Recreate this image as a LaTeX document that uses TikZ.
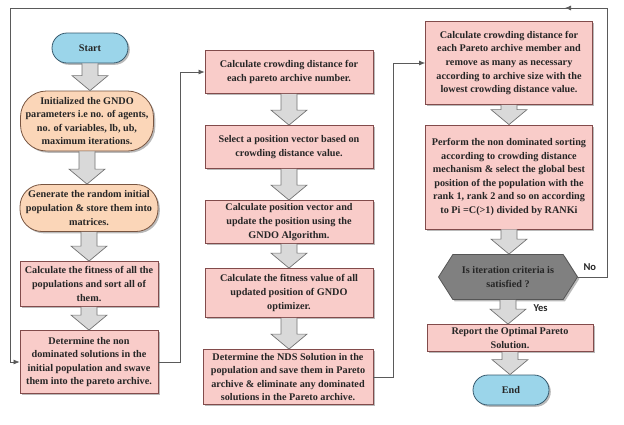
\documentclass[tikz,border=0pt]{standalone}
\usepackage{fontspec}
\setmainfont{Liberation Serif}
\newfontfamily\labelfont{Carlito}
\usetikzlibrary{calc,shadows,shapes.symbols,arrows.meta}

\definecolor{boxpink}{RGB}{249,204,201}
\definecolor{boxpinkline}{RGB}{130,75,75}
\definecolor{boxorange}{RGB}{251,214,184}
\definecolor{boxorangeline}{RGB}{120,85,65}
\definecolor{boxblue}{RGB}{155,213,234}
\definecolor{boxblueline}{RGB}{55,90,110}
\definecolor{decgray}{RGB}{128,128,128}
\definecolor{decgrayline}{RGB}{85,85,85}
\definecolor{arrowgray}{RGB}{217,217,217}
\definecolor{arrowgrayline}{RGB}{115,115,115}
\definecolor{loopline}{RGB}{90,90,90}

\newcommand{\blockarrow}[2]{%
  \coordinate (ba_s) at (#1.south);
  \coordinate (ba_e) at (#1.south |- #2.north);
  \draw[blockarr] ($(ba_s)+(-8,0)$) -- ($(ba_e)+(-8,-15)$) -- ($(ba_e)+(-18,-15)$)
    -- (ba_e) -- ($(ba_e)+(18,-15)$) -- ($(ba_e)+(8,-15)$) -- ($(ba_s)+(8,0)$);
}

\begin{document}
\begin{tikzpicture}[x=1pt,y=-1pt]
\tikzset{
  stepbox/.style={rectangle,draw=boxpinkline,fill=boxpink,thick,align=center,inner sep=2pt,
    text=black!85,font=\bfseries\fontsize{10.2}{13.6}\selectfont,
    drop shadow={shadow xshift=1.8pt,shadow yshift=-1.8pt,fill=black!45,opacity=0.6}},
  initbox/.style={stepbox,draw=boxorangeline,fill=boxorange},
  termbox/.style={stepbox,draw=boxblueline,fill=boxblue,minimum width=76pt,minimum height=30pt,rounded corners=15pt},
  decbox/.style={signal,signal to=east and west,signal pointer angle=115,draw=decgrayline,fill=decgray,thick,
    align=center,inner sep=1pt,text=black!85,font=\bfseries\fontsize{10.2}{13.6}\selectfont,
    drop shadow={shadow xshift=1.8pt,shadow yshift=-1.8pt,fill=black!45,opacity=0.6}},
  blockarr/.style={fill=arrowgray,draw=arrowgrayline,line width=0.7pt,line join=miter},
  flowline/.style={draw=loopline,line width=0.7pt},
  flowarrow/.style={flowline,-{Latex[length=6pt,width=5pt]}},
  flowlabel/.style={font=\labelfont\bfseries\fontsize{10.5}{12}\selectfont,text=black!85}
}
\useasboundingbox (0,0) rectangle (624,424);

\node[termbox] (n_start) at (90,48) {Start};
\node[initbox,minimum width=133pt,minimum height=60pt,rounded corners=26pt] (n_init) at (87,121)
  {Initialized the GNDO\\parameters i.e no. of agents,\\no. of variables,  lb, ub,\\maximum iterations.};
\node[initbox,minimum width=138pt,minimum height=47pt,rounded corners=22pt] (n_gen) at (89,208)
  {Generate the random initial\\population \& store them into\\matrices.};
\node[stepbox,minimum width=138pt,minimum height=45pt] (n_fit) at (89,284)
  {Calculate the fitness of all the\\populations and sort all of\\them.};
\node[stepbox,minimum width=138pt,minimum height=63pt] (n_det) at (89,362)
  {Determine the non\\dominated solutions in the\\initial population and swave\\them into the pareto archive.};

\node[stepbox,minimum width=168pt,minimum height=43pt] (n_cd) at (289,72)
  {Calculate crowding distance for\\each pareto archive number.};
\node[stepbox,minimum width=168pt,minimum height=43pt] (n_sel) at (289,147)
  {Select a position vector based on\\crowding distance value.};
\node[stepbox,minimum width=168pt,minimum height=43pt] (n_pos) at (289,222)
  {Calculate position vector and\\update the position using the\\GNDO Algorithm.};
\node[stepbox,minimum width=168pt,minimum height=49pt] (n_fitval) at (289,293)
  {Calculate the fitness value of all\\updated position of GNDO\\optimizer.};
\node[stepbox,minimum width=170pt,minimum height=55pt] (n_nds) at (288,377)
  {Determine the NDS Solution in the\\population and save them in Pareto\\archive \& eliminate any dominated\\solutions in the Pareto archive.};

\node[stepbox,minimum width=167pt,minimum height=83pt] (n_crowd) at (509,63)
  {Calculate crowding distance for\\each Pareto archive member and\\remove as many as necessary\\according to archive size with the\\lowest crowding distance value.};
\node[stepbox,minimum width=167pt,minimum height=104pt] (n_sort) at (509,177)
  {Perform the non dominated sorting\\according to crowding distance\\mechanism \& select the global best\\position of the population with the\\rank 1, rank 2 and so on according\\to Pi =C(>1) divided by RANKi};
\node[decbox,minimum width=139pt,minimum height=45pt] (n_check) at (508,277)
  {Is iteration criteria is\\satisfied ?};
\node[stepbox,minimum width=166pt,minimum height=27pt] (n_report) at (510,338)
  {Report the Optimal Pareto\\Solution.};
\node[termbox] (n_end) at (511,390) {End};

\blockarrow{n_start}{n_init}
\blockarrow{n_init}{n_gen}
\blockarrow{n_gen}{n_fit}
\blockarrow{n_fit}{n_det}
\blockarrow{n_cd}{n_sel}
\blockarrow{n_sel}{n_pos}
\blockarrow{n_pos}{n_fitval}
\blockarrow{n_fitval}{n_nds}
\blockarrow{n_crowd}{n_sort}
\blockarrow{n_sort}{n_check}
\blockarrow{n_check}{n_report}
\blockarrow{n_report}{n_end}

\coordinate (c_j1) at (180,0);
\coordinate (c_j2) at (393,0);
\coordinate (c_ne) at (607,8);
\coordinate (c_nw) at (10,8);
\coordinate (c_mid) at (565,8);
\draw[flowarrow] (n_det.east) -- (n_det.east -| c_j1) |- (n_cd.west);
\draw[flowarrow] (n_nds.east) -- (n_nds.east -| c_j2) |- (n_crowd.west);
\draw[flowline] (n_check.east) -| (c_ne) -- (c_nw);
\draw[flowarrow] (c_ne) -- (c_mid);
\draw[flowarrow] (c_nw) |- (n_det.west);

\node[flowlabel,anchor=south west] (l_no) at (580,274) {No};
\node[flowlabel,anchor=west] (l_yes) at (530,308) {Yes};
\end{tikzpicture}
\end{document}
